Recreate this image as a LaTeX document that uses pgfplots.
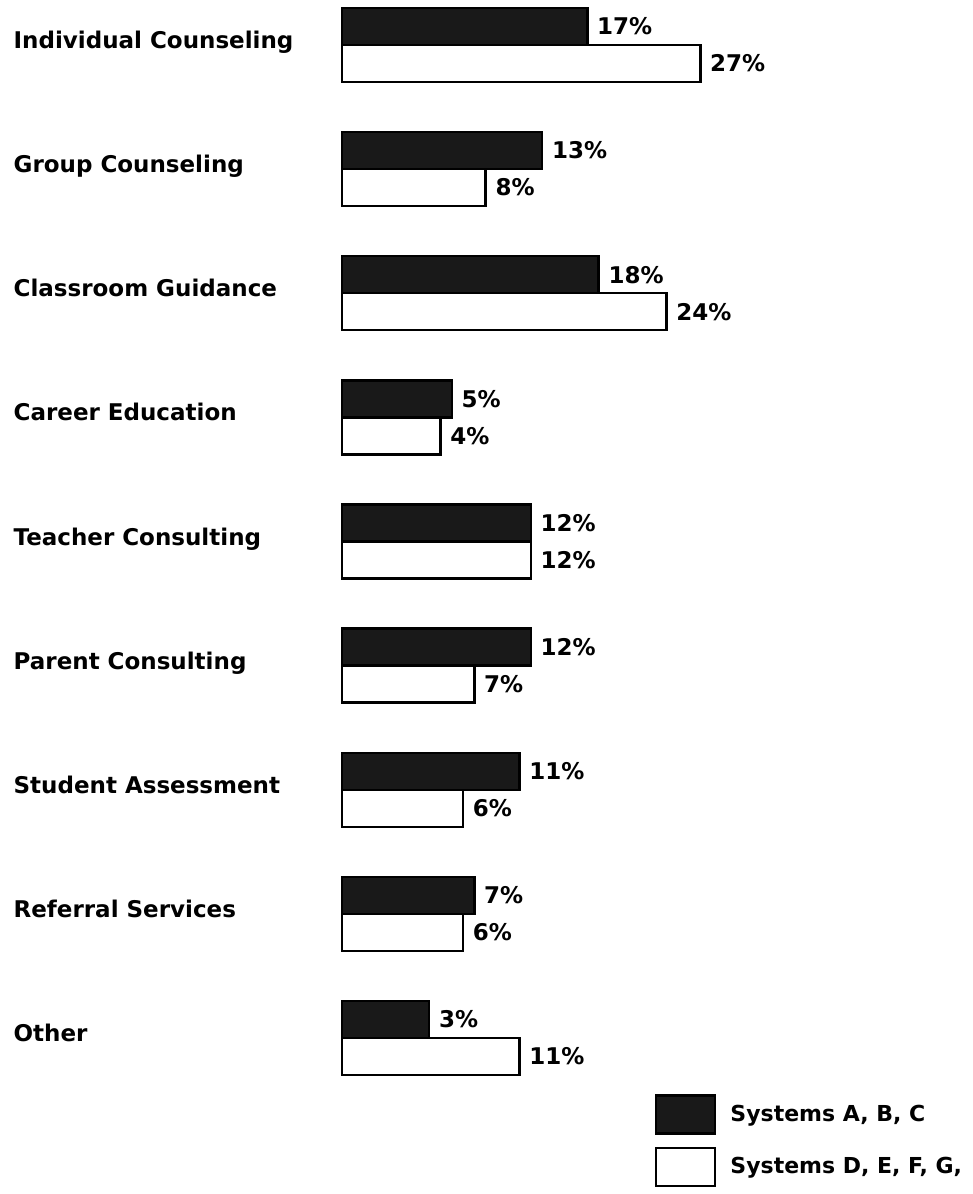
\documentclass[border=0pt]{standalone}
\usepackage{pgfplots}
\usepackage{pgfplotstable}
\usepackage{fontspec}
\setmainfont{DejaVu Sans}
\pgfplotsset{compat=1.18}
\pgfplotstableread{
pos abc defg
8 17 27
7 13 8
6 18 24
5 5 4
4 12 12
3 12 7
2 11 6
1 7 6
0 3 11
}\datatable
\newcommand{\lblfont}{\bfseries\fontsize{11.5}{13}\selectfont}
\begin{document}
\begin{tikzpicture}
\begin{axis}[
  scale only axis, width=486pt, height=597pt,
  xmin=-30.27, xmax=55.75,
  ymin=-1.257, ymax=8.3626,
  axis line style={draw=none},
  major tick length=0pt,
  xtick=\empty,
  ytick={0,...,8},
  yticklabels={Other, Referral Services, Student Assessment, Parent Consulting, Teacher Consulting, Career Education, Classroom Guidance, Group Counseling, Individual Counseling},
  yticklabel style={anchor=base west, xshift=3.2pt, yshift=-1.8pt, font=\lblfont},
  xbar, bar width=18.5pt,
  point meta=explicit,
  /pgf/number format/assume math mode=true,
  nodes near coords={\pgfmathprintnumber{\pgfplotspointmeta}\%},
  every node near coord/.append style={font=\lblfont, anchor=west, xshift=1pt},
  legend cell align=left,
  legend style={draw=none, fill=none, at={(axis cs:27.65,-0.827)}, anchor=west,
    font=\bfseries\fontsize{11}{13}\selectfont, row sep=6pt, column sep=5pt, inner sep=0pt},
]
\addplot[fill=black!90, draw=black, line width=1.2pt, bar shift=9.25pt,
  legend image code/.code={\draw[fill=black!90, draw=black, line width=1.2pt] (0pt,-9.5pt) rectangle (29.5pt,9.5pt);}]
  table[x expr=\thisrow{abc}+4.69, y=pos, meta=abc] {\datatable};
\addlegendentry{Systems A, B, C}
\addplot[fill=white, draw=black, line width=1.2pt, bar shift=-9.25pt,
  legend image code/.code={\draw[fill=white, draw=black, line width=1.2pt] (0pt,-9.5pt) rectangle (29.5pt,9.5pt);}]
  table[x expr=\thisrow{defg}+4.69, y=pos, meta=defg] {\datatable};
\addlegendentry{Systems D, E, F, G,}
\end{axis}
\end{tikzpicture}
\end{document}
